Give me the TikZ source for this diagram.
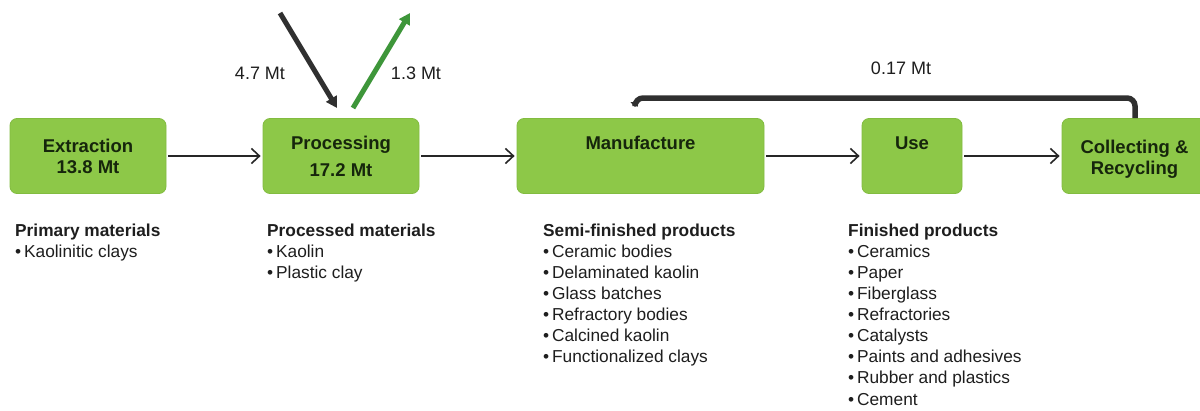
\documentclass[tikz,border=0pt]{standalone}
\usepackage{fontspec}
\setmainfont{Liberation Sans}
\usetikzlibrary{arrows.meta}
\definecolor{boxgreen}{RGB}{141,200,72}
\definecolor{boxedge}{RGB}{130,188,64}
\definecolor{arrgreen}{RGB}{62,150,58}
\definecolor{arrdark}{RGB}{48,48,48}
\definecolor{boxtext}{RGB}{22,38,12}
\definecolor{listtext}{RGB}{30,30,30}
\begin{document}
\begin{tikzpicture}[x=1pt,y=-1pt,
  stage/.style={draw=boxedge, line width=0.8pt, fill=boxgreen, rounded corners=7pt,
    minimum height=75pt, inner sep=0pt, text=boxtext,
    font=\fontsize{18.5}{21}\selectfont\bfseries, align=center},
  stagetext/.style={inner sep=0pt, text=boxtext, font=\fontsize{18.5}{21}\selectfont\bfseries, align=center},
  flow/.style={draw=black!85, line width=1.6pt,
    -{Straight Barb[length=8pt,width=15pt,line width=1.6pt]}, shorten <=2pt, shorten >=2pt},
  bigarrow/.style={line width=5pt, -{Triangle[length=11pt,width=12pt]}},
  lbl/.style={inner sep=0pt, text=listtext, font=\fontsize{18}{21}\selectfont},
  listbox/.style={anchor=north west, inner sep=0pt, align=left, text=listtext,
    font=\fontsize{17.3}{21.1}\selectfont}
]
\useasboundingbox[fill=white] (0,0) rectangle (1200,410);

% stages
\node[stage, minimum width=156pt] (ext) at (88,156) {Extraction\\13.8 Mt};
\node[stage, minimum width=156pt] (proc) at (341,156) {Processing\\[6pt]17.2 Mt};
\node[stage, minimum width=247pt] (man) at (640.5,156) {};
\node[stagetext] (mant) at (640.5,143) {Manufacture};
\node[stage, minimum width=100pt] (use) at (912,156) {};
\node[stagetext] (uset) at (912,143) {Use};
\node[stage, minimum width=150pt] (coll) at (1137,156) {};
\node[stagetext] (collt) at (1134.5,159) {Collecting \&\\Recycling};

% flows
\draw[flow] (ext) -- (proc);
\draw[flow] (proc) -- (man);
\draw[flow] (man) -- (use);
\draw[flow] (use) -- (coll);

% input / output at processing
\coordinate (inA) at (280,13);
\coordinate (inB) at (337,108);
\coordinate (outA) at (353,108);
\coordinate (outB) at (410,13);
\draw[bigarrow, draw=arrdark, fill=arrdark] (inA) -- (inB);
\draw[bigarrow, draw=arrgreen, fill=arrgreen] (outA) -- (outB);
\node[lbl] (l47) at (260,73) {4.7 Mt};
\node[lbl] (l13) at (416,73) {1.3 Mt};

% recycling loop
\coordinate (recStart) at (1135,118);
\coordinate (recEnd) at (635,107);
\draw[arrdark, line width=5.5pt, rounded corners=8pt, -{Triangle[length=5pt,width=9pt]}]
  (recStart) -- ++(0,-20) -| (recEnd);
\node[lbl] (l017) at (901,68) {0.17 Mt};

% lists
\node[listbox] (prim) at (15,223.5) {\textbf{Primary materials}\\•\,Kaolinitic clays};
\node[listbox] (procm) at (267,223.5) {\textbf{Processed materials}\\•\,Kaolin\\•\,Plastic clay};
\node[listbox] (semi) at (543,223.5) {\textbf{Semi-finished products}\\•\,Ceramic bodies\\•\,Delaminated kaolin\\•\,Glass batches\\•\,Refractory bodies\\•\,Calcined kaolin\\•\,Functionalized clays};
\node[listbox] (fin) at (848,223.5) {\textbf{Finished products}\\•\,Ceramics\\•\,Paper\\•\,Fiberglass\\•\,Refractories\\•\,Catalysts\\•\,Paints and adhesives\\•\,Rubber and plastics\\•\,Cement};
\end{tikzpicture}
\end{document}
